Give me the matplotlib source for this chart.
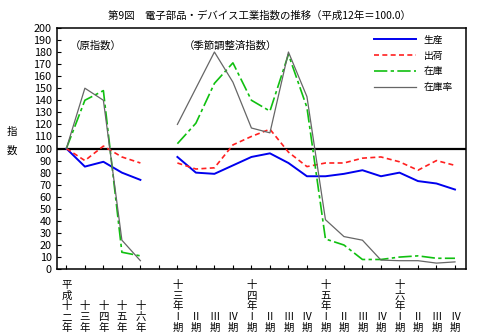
import numpy as np
import matplotlib
matplotlib.use("Agg")
import matplotlib.pyplot as plt
import matplotlib.transforms as mtransforms

plt.rcParams['font.family'] = ['Noto Sans CJK JP', 'DejaVu Sans']

# ===== Data =====
# annual (原指数): positions 0..4, quarterly (季節調整済指数): positions 6..21
annual_labels = ["平\n成\n十\n二\n年", "十\n三\n年", "十\n四\n年", "十\n五\n年", "十\n六\n年"]
quarter_labels = ["十\n三\n年\nⅠ\n期", "Ⅱ\n期", "Ⅲ\n期", "Ⅳ\n期",
                  "十\n四\n年\nⅠ\n期", "Ⅱ\n期", "Ⅲ\n期", "Ⅳ\n期",
                  "十\n五\n年\nⅠ\n期", "Ⅱ\n期", "Ⅲ\n期", "Ⅳ\n期",
                  "十\n六\n年\nⅠ\n期", "Ⅱ\n期", "Ⅲ\n期", "Ⅳ\n期"]

seisan_annual = [100, 85, 89, 80, 74]
shukka_annual = [100, 90, 102, 93, 88]
zaiko_annual = [100, 140, 148, 14, 11]
zaikoritsu_annual = [100, 150, 140, 24, 7]

seisan_q = [93, 80, 79, 86, 93, 96, 88, 77, 77, 79, 82, 77, 80, 73, 71, 66]
shukka_q = [88, 83, 84, 103, 110, 116, 97, 85, 88, 88, 92, 93, 89, 82, 90, 86]
zaiko_q = [104, 121, 154, 171, 140, 131, 178, 134, 25, 20, 8, 8, 10, 11, 9, 9]
zaikoritsu_q = [120, 150, 180, 155, 117, 113, 180, 143, 41, 27, 24, 7.5, 7, 7, 5, 6]

x_annual = np.arange(len(annual_labels))
x_q = np.arange(len(quarter_labels)) + len(annual_labels) + 1

fig = plt.figure(figsize=(4.8, 3.36), dpi=100)
ax = fig.add_axes([0.119, 0.199, 0.852, 0.718])

series = [
    ("生産", seisan_annual, seisan_q, dict(color='#0000EE', lw=1.4, ls='-')),
    ("出荷", shukka_annual, shukka_q, dict(color='#FF2020', lw=1.2, ls=(0, (3, 2)))),
    ("在庫", zaiko_annual, zaiko_q, dict(color='#10C010', lw=1.2, ls=(0, (8, 2, 2, 2)))),
    ("在庫率", zaikoritsu_annual, zaikoritsu_q, dict(color='#666666', lw=0.9, ls='-')),
]
for name, ya, yq, st in series:
    ax.plot(x_annual, ya, label=name, **st)
    ax.plot(x_q, yq, **st)

ax.axhline(100, color='black', lw=1.6, zorder=1)

ax.set_ylim(0, 200)
ax.set_xlim(-0.5, 21.6)
ax.set_yticks(np.arange(0, 201, 10))
ax.tick_params(axis='y', direction='in', length=3, labelsize=7.8, pad=4)
ax.set_xticks(np.arange(0, 22))
ax.set_xticklabels([])
ax.tick_params(axis='x', direction='in', length=3)
for s in ax.spines.values():
    s.set_linewidth(1.1)

# vertical Japanese tick labels, bottom aligned
trans = mtransforms.blended_transform_factory(ax.transData, fig.transFigure)
for xi, lab in zip(list(x_annual) + list(x_q), annual_labels + quarter_labels):
    ax.text(xi, 0.01, lab, transform=trans, ha='center', va='bottom',
            fontsize=7.5, linespacing=1.08)

fig.text(0.025, 0.58, "指\n\n数", ha='center', va='center', fontsize=7.5, linespacing=0.9)

ax.text(0.03, 0.925, "（原指数）", transform=ax.transAxes, fontsize=7.5, va='center')
ax.text(0.31, 0.925, "（季節調整済指数）", transform=ax.transAxes, fontsize=7.5, va='center')

fig.suptitle("第9図　電子部品・デバイス工業指数の推移（平成12年＝100.0）",
             x=0.54, y=0.967, fontsize=7.5)

ax.legend(loc='upper right', frameon=False, fontsize=7, handlelength=4.3,
          labelspacing=0.6, bbox_to_anchor=(0.985, 1.0), borderaxespad=0.3)

plt.savefig('out.png', dpi=100)
